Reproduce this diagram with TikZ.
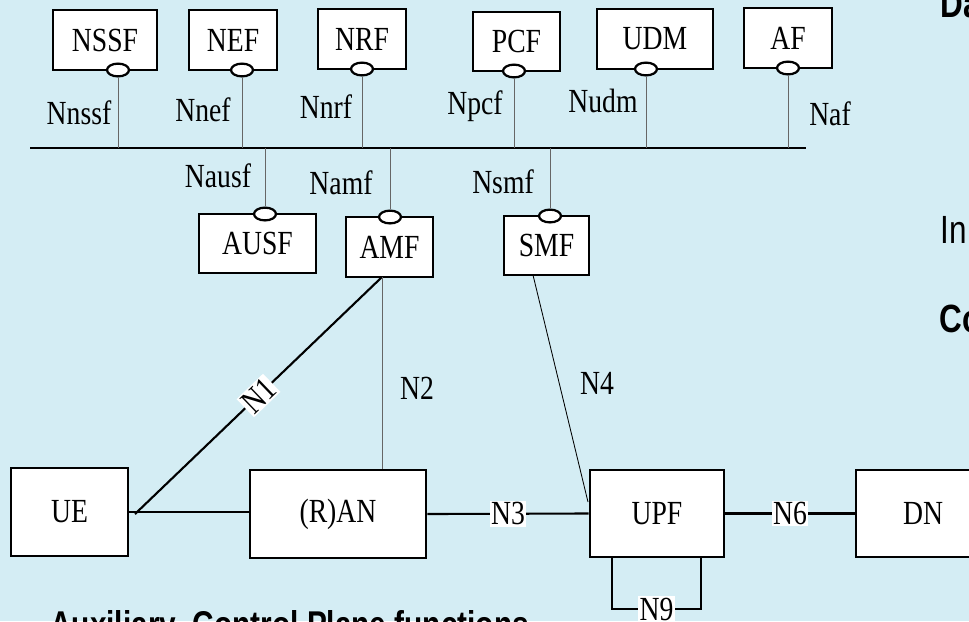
\documentclass[tikz,border=0pt]{standalone}
\usepackage{fontspec}
\newfontfamily\boxfont[FakeStretch=0.82]{Liberation Serif}
\newfontfamily\slidefont[FakeStretch=0.8]{Liberation Sans}
\usetikzlibrary{shapes.geometric}
\definecolor{slideblue}{RGB}{212,237,244}
\begin{document}
\begin{tikzpicture}[x=0.025cm, y=-0.025cm]
        \tikzstyle{nf}=[rectangle, draw, line width=1.9pt, fill=white, font=\boxfont\fontsize{24}{26}\selectfont, inner sep=0pt]
        \tikzstyle{port}=[ellipse, draw, line width=1.6pt, fill=white, minimum width=0.55cm, minimum height=0.32cm, inner sep=0pt]
        \tikzstyle{iface}=[font=\boxfont\fontsize{24}{26}\selectfont, inner sep=1pt]
        \tikzstyle{sbi}=[line width=0.7pt, draw=black!60]
        \tikzstyle{reflink}=[line width=1.5pt]
        \tikzstyle{slide}=[font=\slidefont\bfseries\fontsize{28}{32}\selectfont, anchor=base west, inner sep=0pt]

        \useasboundingbox (0,0) rectangle (969,621);
        \clip (0,0) rectangle (969,621);
        \fill[slideblue] (0,0) rectangle (969,621);

        \node[nf, minimum width=2.6cm, minimum height=1.5cm] (nssf) at (105,40) {NSSF};
        \node[nf, minimum width=2.2cm, minimum height=1.5cm] (nef) at (233,40) {NEF};
        \node[nf, minimum width=2.2cm, minimum height=1.5cm] (nrf) at (362,39) {NRF};
        \node[nf, minimum width=2.18cm, minimum height=1.48cm] (pcf) at (516.5,41.5) {PCF};
        \node[nf, minimum width=2.9cm, minimum height=1.5cm] (udm) at (655,39) {UDM};
        \node[nf, minimum width=2.2cm, minimum height=1.5cm] (af) at (788,38) {AF};
        \node[nf, minimum width=2.92cm, minimum height=1.48cm] (ausf) at (257.5,243.5) {AUSF};
        \node[nf, minimum width=2.18cm, minimum height=1.5cm] (amf) at (389.5,247) {AMF};
        \node[nf, minimum width=2.12cm, minimum height=1.48cm] (smf) at (546.5,245.5) {SMF};

        \node[nf, minimum width=2.92cm, minimum height=2.2cm] (ue) at (69.5,512) {UE};
        \node[nf, minimum width=4.4cm, minimum height=2.2cm] (ran) at (338,514) {(R)AN};
        \node[nf, minimum width=3.35cm, minimum height=2.18cm] (upf) at (657,513.5) {UPF};
        \node[nf, minimum width=3.35cm, minimum height=2.18cm] (dn) at (923,513.5) {DN};

        \coordinate (bus-w) at (30,148);
        \coordinate (bus-e) at (806,148);
        \draw[line width=1.7pt] (bus-w) -- (bus-e);

        \node[port] (nssf-p) at (118,70) {};
        \node[port] (nef-p) at (242,70) {};
        \node[port] (nrf-p) at (362,69) {};
        \node[port] (pcf-p) at (514,71) {};
        \node[port] (udm-p) at (646,69) {};
        \node[port] (af-p) at (788,68) {};
        \node[port] (ausf-p) at (265,214) {};
        \node[port] (amf-p) at (390,217) {};
        \node[port] (smf-p) at (550,216) {};

        \draw[sbi] (nssf-p) -- (nssf-p |- bus-w);
        \draw[sbi] (nef-p) -- (nef-p |- bus-w);
        \draw[sbi] (nrf-p) -- (nrf-p |- bus-w);
        \draw[sbi] (pcf-p) -- (pcf-p |- bus-w);
        \draw[sbi] (udm-p) -- (udm-p |- bus-w);
        \draw[sbi] (af-p) -- (af-p |- bus-w);
        \draw[sbi] (ausf-p) -- (ausf-p |- bus-w);
        \draw[sbi] (amf-p) -- (amf-p |- bus-w);
        \draw[sbi] (smf-p) -- (smf-p |- bus-w);

        \node[iface] (nnssf) at (79,113) {Nnssf};
        \node[iface] (nnef) at (203,110) {Nnef};
        \node[iface] (nnrf) at (326,107) {Nnrf};
        \node[iface] (npcf) at (475,106) {Npcf};
        \node[iface] (nudm) at (603,101) {Nudm};
        \node[iface] (naf) at (830,114) {Naf};
        \node[iface] (nausf) at (218,176) {Nausf};
        \node[iface] (namf) at (341,183) {Namf};
        \node[iface] (nsmf) at (503,182) {Nsmf};

        \coordinate (amf-b) at (382,277);
        \coordinate (ue-j) at (135,514);
        \coordinate (smf-b) at (533,275);
        \coordinate (upf-t) at (588,502);
        \coordinate (n9-w) at (612,609);
        \coordinate (n9-e) at (701,609);

        \draw[reflink] (ue-j) -- node[iface, sloped, fill=white] (n1) {N1} (amf-b);
        \draw[reflink] (ue.east) -- (ue.east -| ran.west);
        \draw[sbi] (amf-b) -- (amf-b |- ran.north);
        \node[iface] (n2) at (417,388) {N2};
        \draw[reflink] (ran.east) -- node[iface, fill=white] (n3) {N3} (upf.west);
        \draw[line width=0.6pt] (smf-b) -- (upf-t);
        \node[iface] (n4) at (597,383) {N4};
        \draw[reflink] (upf.east) -- node[iface, fill=white] (n6) {N6} (dn.west);
        \draw[reflink] (upf.south -| n9-w) -- (n9-w) -- node[iface, fill=white] (n9) {N9} (n9-e) -- (upf.south -| n9-e);

        \node[slide] (da) at (940,17) {Da};
        \node[slide, font=\slidefont\fontsize{28}{32}\selectfont] (in) at (940,243) {In};
        \node[slide] (co) at (939,332) {Co};
        \node[slide, font=\slidefont\bfseries\fontsize{26.5}{30}\selectfont] (aux) at (50,637) {Auxiliary\ \ Control Plane functions};
    \end{tikzpicture}
\end{document}
